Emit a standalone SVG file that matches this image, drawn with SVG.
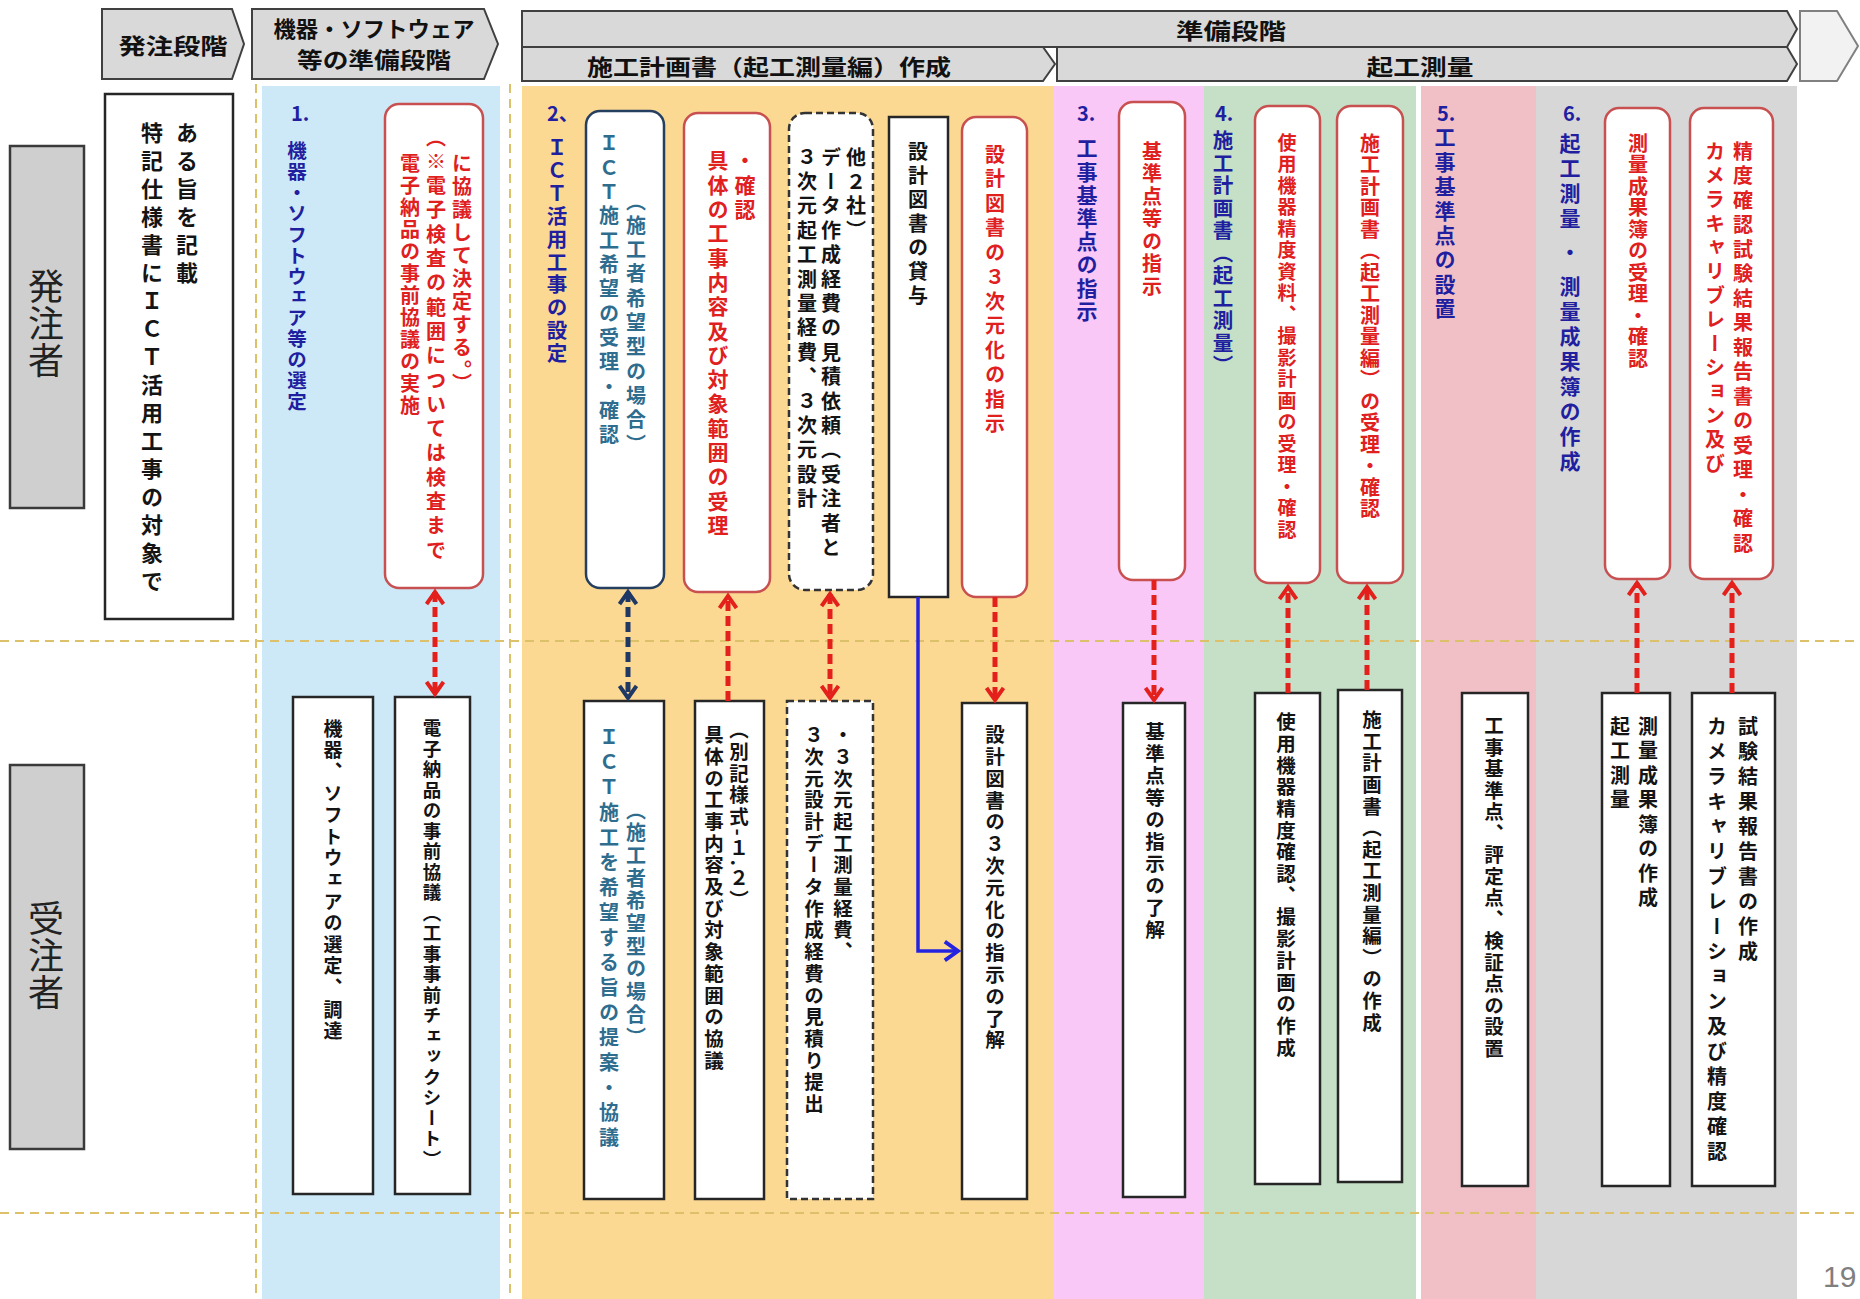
<svg xmlns="http://www.w3.org/2000/svg" width="1860" height="1299" viewBox="0 0 1860 1299">
<defs>
<style>
text { font-family: "Noto Sans CJK JP", "Noto Sans", sans-serif; }
.v { writing-mode: vertical-rl; }
.hdr { fill: #d9d9d9; stroke: #404040; stroke-width: 2; }
.hdt { font-size: 22px; font-weight: 700; fill: #111; dominant-baseline: central; text-anchor: middle; }
.lane { fill: #cfcfcf; stroke: #3a3a3a; stroke-width: 2.5; }
.lanet { font-size: 36px; fill: #222; letter-spacing: 1px; }
.num { font-size: 20px; font-weight: 700; fill: #1f1fa0; }
.hd { font-weight: 700; fill: #1f1fa0; }
.rt { font-weight: 700; fill: #e0201e; }
.bt { font-weight: 700; fill: #141414; }
.tt { font-weight: 700; fill: #2f6d8f; }
.rbox { fill: #fff; stroke: #c85050; stroke-width: 2.5; }
.bbox { fill: #fff; stroke: #262626; stroke-width: 2.5; }
.nbox { fill: #fff; stroke: #243f60; stroke-width: 2.5; }
.dbox { fill: #fff; stroke: #333; stroke-width: 2.5; stroke-dasharray: 7 4; }
.grid { stroke: #dcc06a; stroke-width: 2; stroke-dasharray: 9 6; fill: none; }
.ra { stroke: #e3201c; stroke-width: 5; stroke-dasharray: 10 5; fill: none; }
.na { stroke: #1f3864; stroke-width: 5; stroke-dasharray: 10 5; fill: none; }
.bl { stroke: #2424e0; stroke-width: 3.5; fill: none; }
</style>
<marker id="mr" viewBox="0 0 20 20" refX="15" refY="10" markerWidth="20" markerHeight="20" markerUnits="userSpaceOnUse" orient="auto-start-reverse"><path d="M3,1.5 L15,10 L3,18.5" fill="none" stroke="#e3201c" stroke-width="4"/></marker>
<marker id="mn" viewBox="0 0 20 20" refX="15" refY="10" markerWidth="20" markerHeight="20" markerUnits="userSpaceOnUse" orient="auto-start-reverse"><path d="M3,1.5 L15,10 L3,18.5" fill="none" stroke="#1f3864" stroke-width="4"/></marker>
<marker id="mb" viewBox="0 0 20 20" refX="15" refY="10" markerWidth="22" markerHeight="22" markerUnits="userSpaceOnUse" orient="auto"><path d="M3,1.5 L15,10 L3,18.5" fill="none" stroke="#2424e0" stroke-width="3.5"/></marker>
</defs>
<rect x="0" y="0" width="1860" height="1299" fill="#ffffff"/>

<g id="bands">
<rect x="262" y="86" width="238" height="1213" fill="#cde9f7"/>
<rect x="522" y="86" width="531" height="1213" fill="#fcd993"/>
<rect x="1053" y="86" width="151" height="1213" fill="#f9c8f7"/>
<rect x="1204" y="86" width="212" height="1213" fill="#c5e0c6"/>
<rect x="1421" y="86" width="115" height="1213" fill="#f1bfc6"/>
<rect x="1536" y="86" width="261" height="1213" fill="#d7d7d7"/>
</g>
<g id="gridlines">
<line class="grid" x1="256" y1="84" x2="256" y2="1299"/>
<line class="grid" x1="510" y1="84" x2="510" y2="1299"/>
<line class="grid" x1="0" y1="641" x2="1860" y2="641"/>
<line class="grid" x1="0" y1="1213" x2="1860" y2="1213"/>
</g>

<g id="header">
<g id="h-hatchu"><polygon class="hdr" points="102,9 232,9 244,44 232,79 102,79"/><text class="hdt" x="173" y="44" textLength="109" lengthAdjust="spacingAndGlyphs">発注段階</text></g>
<g id="h-kiki"><polygon class="hdr" points="252,9 484,9 498,44 484,79 252,79"/><text class="hdt" x="374" y="27" textLength="201" lengthAdjust="spacingAndGlyphs">機器・ソフトウェア</text><text class="hdt" x="374" y="58" textLength="154" lengthAdjust="spacingAndGlyphs">等の準備段階</text></g>
<g id="h-junbi"><polygon class="hdr" points="522,11 1787,11 1797,29 1787,47 522,47"/><text class="hdt" x="1231" y="29" textLength="110" lengthAdjust="spacingAndGlyphs">準備段階</text></g>
<g id="h-sekou"><polygon class="hdr" points="522,47 1043,47 1055,64 1043,81 522,81"/><text class="hdt" x="769" y="65" textLength="364" lengthAdjust="spacingAndGlyphs">施工計画書（起工測量編）作成</text></g>
<g id="h-kikou"><polygon class="hdr" points="1057,47 1787,47 1797,64 1787,81 1057,81"/><text class="hdt" x="1420" y="65" textLength="107" lengthAdjust="spacingAndGlyphs">起工測量</text></g>
<g id="h-next"><polygon points="1800,11 1837,11 1858,46 1837,81 1800,81" fill="#f2f2f2" stroke="#808080" stroke-width="2"/></g>
</g>

<g id="lane-hatchu"><rect class="lane" x="10" y="146" width="74" height="362"/><text class="v lanet" x="46" y="268">発注者</text></g>
<g id="lane-juchu"><rect class="lane" x="10" y="765" width="74" height="384"/><text class="v lanet" x="46" y="900">受注者</text></g>

<g id="headings">
<text class="num" x="291" y="121">1.</text>
<text class="v hd" x="297" y="141" style="font-size:19.5px;letter-spacing:1.4px">機器・ソフトウェア等の選定</text>
<text class="num" x="547" y="121">2、</text>
<text class="v hd" x="557" y="137" style="font-size:20.5px;letter-spacing:2.4px">ＩＣＴ活用工事の設定</text>
<text class="num" x="1077" y="121">3.</text>
<text class="v hd" x="1087" y="138" style="font-size:21px;letter-spacing:2.2px">工事基準点の指示</text>
<text class="num" x="1215" y="121">4.</text>
<text class="v hd" x="1223" y="130" style="font-size:20.5px;letter-spacing:2px">施工計画書（起工測量）</text>
<text class="num" x="1437" y="121">5.</text>
<text class="v hd" x="1445" y="127" style="font-size:21px;letter-spacing:3.4px">工事基準点の設置</text>
<text class="num" x="1563" y="121">6.</text>
<text class="v hd" x="1570" y="133" style="font-size:21px;letter-spacing:4px">起工測量 ・ 測量成果簿の作成</text>
</g>

<g id="t1"><rect class="bbox" x="105" y="94" width="128" height="525"/>
<text class="v bt" x="152" y="122" style="font-size:22px;letter-spacing:6px">特記仕様書にＩＣＴ活用工事の対象で</text>
<text class="v bt" x="187" y="122" style="font-size:22px;letter-spacing:6px">ある旨を記載</text></g>

<g id="t2"><rect class="rbox" x="385" y="104" width="98" height="484" rx="14"/>
<text class="v rt" x="410" y="153" style="font-size:20px;letter-spacing:2px">電子納品の事前協議の実施</text>
<text class="v rt" x="436" y="127" style="font-size:20px;letter-spacing:4.3px">（※電子検査の範囲については検査まで</text>
<text class="v rt" x="462" y="153" style="font-size:20px;letter-spacing:3px">に協議して決定する。）</text></g>

<g id="t3"><rect class="nbox" x="586" y="111" width="78" height="477" rx="14"/>
<text class="v tt" x="609" y="133" style="font-size:20px;letter-spacing:4.3px">ＩＣＴ施工希望の受理・確認</text>
<text class="v tt" x="636" y="191" style="font-size:20px;letter-spacing:4.3px">（施工者希望型の場合）</text></g>

<g id="t4"><rect class="rbox" x="684" y="113" width="86" height="479" rx="14"/>
<text class="v rt" x="718" y="150" style="font-size:21px;letter-spacing:3.3px">具体の工事内容及び対象範囲の受理</text>
<text class="v rt" x="745" y="150" style="font-size:21px;letter-spacing:3.3px">・確認</text></g>

<g id="t5"><rect class="dbox" x="789" y="113" width="84" height="477" rx="16"/>
<text class="v bt" x="807" y="147" style="font-size:20px;letter-spacing:4.4px">３次元起工測量経費、３次元設計</text>
<text class="v bt" x="831" y="147" style="font-size:20px;letter-spacing:4.4px">データ作成経費の見積依頼（受注者と</text>
<text class="v bt" x="856" y="147" style="font-size:20px;letter-spacing:4.4px">他２社）</text></g>

<g id="t6"><rect class="bbox" x="889" y="117" width="59" height="480"/>
<text class="v bt" x="918" y="141" style="font-size:20px;letter-spacing:4px">設計図書の貸与</text></g>

<g id="t7"><rect class="rbox" x="962" y="117" width="65" height="480" rx="14"/>
<text class="v rt" x="995" y="144" style="font-size:20px;letter-spacing:4.5px">設計図書の３次元化の指示</text></g>

<g id="t8"><rect class="rbox" x="1119" y="102" width="66" height="478" rx="14"/>
<text class="v rt" x="1152" y="141" style="font-size:20px;letter-spacing:2.5px">基準点等の指示</text></g>

<g id="t9"><rect class="rbox" x="1255" y="106" width="65" height="477" rx="14"/>
<text class="v rt" x="1287" y="133" style="font-size:19px;letter-spacing:2.5px">使用機器精度資料、撮影計画の受理・確認</text></g>

<g id="t10"><rect class="rbox" x="1337" y="106" width="66" height="477" rx="14"/>
<text class="v rt" x="1370" y="133" style="font-size:20px;letter-spacing:1.5px">施工計画書（起工測量編）の受理・確認</text></g>

<g id="t11"><rect class="rbox" x="1605" y="108" width="65" height="471" rx="14"/>
<text class="v rt" x="1638" y="133" style="font-size:20px;letter-spacing:1.5px">測量成果簿の受理・確認</text></g>

<g id="t12"><rect class="rbox" x="1690" y="108" width="83" height="471" rx="14"/>
<text class="v rt" x="1715" y="141" style="font-size:20px;letter-spacing:4px">カメラキャリブレーション及び</text>
<text class="v rt" x="1743" y="141" style="font-size:20px;letter-spacing:4.5px">精度確認試験結果報告書の受理・確認</text></g>

<g id="b1"><rect class="bbox" x="293" y="697" width="80" height="497"/>
<text class="v bt" x="333" y="719" style="font-size:19px;letter-spacing:2.6px">機器、ソフトウェアの選定、調達</text></g>

<g id="b2"><rect class="bbox" x="395" y="697" width="75" height="497"/>
<text class="v bt" x="432" y="719" style="font-size:18.5px;letter-spacing:2px">電子納品の事前協議（工事事前チェックシート）</text></g>

<g id="b3"><rect class="bbox" x="584" y="701" width="80" height="498"/>
<text class="v tt" x="609" y="727" style="font-size:20px;letter-spacing:5px">ＩＣＴ施工を希望する旨の提案・協議</text>
<text class="v tt" x="636" y="800" style="font-size:20px;letter-spacing:2.7px">（施工者希望型の場合）</text></g>

<g id="b4"><rect class="bbox" x="695" y="701" width="69" height="498"/>
<text class="v bt" x="714" y="725" style="font-size:19.5px;letter-spacing:2.2px">具体の工事内容及び対象範囲の協議</text>
<text class="v bt" x="739" y="720" style="font-size:19.5px;letter-spacing:2.2px">（別記様式-１.２）</text></g>

<g id="b5"><rect class="dbox" x="787" y="701" width="86" height="498"/>
<text class="v bt" x="814" y="725" style="font-size:19.5px;letter-spacing:2.2px">３次元設計データ作成経費の見積り提出</text>
<text class="v bt" x="843" y="725" style="font-size:19.5px;letter-spacing:2.2px">・３次元起工測量経費、</text></g>

<g id="b6"><rect class="bbox" x="962" y="703" width="65" height="496"/>
<text class="v bt" x="995" y="725" style="font-size:19.5px;letter-spacing:2.3px">設計図書の３次元化の指示の了解</text></g>

<g id="b7"><rect class="bbox" x="1123" y="703" width="62" height="494"/>
<text class="v bt" x="1155" y="722" style="font-size:19.5px;letter-spacing:2.5px">基準点等の指示の了解</text></g>

<g id="b8"><rect class="bbox" x="1255" y="693" width="65" height="491"/>
<text class="v bt" x="1286" y="712" style="font-size:19.5px;letter-spacing:2.2px">使用機器精度確認、撮影計画の作成</text></g>

<g id="b9"><rect class="bbox" x="1338" y="690" width="64" height="492"/>
<text class="v bt" x="1372" y="710" style="font-size:19.5px;letter-spacing:2.1px">施工計画書（起工測量編）の作成</text></g>

<g id="b10"><rect class="bbox" x="1462" y="693" width="66" height="493"/>
<text class="v bt" x="1494" y="716" style="font-size:19.5px;letter-spacing:2px">工事基準点、評定点、検証点の設置</text></g>

<g id="b11"><rect class="bbox" x="1602" y="693" width="68" height="493"/>
<text class="v bt" x="1620" y="716" style="font-size:20px;letter-spacing:4.5px">起工測量</text>
<text class="v bt" x="1648" y="716" style="font-size:20px;letter-spacing:4.5px">測量成果簿の作成</text></g>

<g id="b12"><rect class="bbox" x="1692" y="693" width="83" height="493"/>
<text class="v bt" x="1717" y="716" style="font-size:20px;letter-spacing:5px">カメラキャリブレーション及び精度確認</text>
<text class="v bt" x="1748" y="716" style="font-size:20px;letter-spacing:5px">試験結果報告書の作成</text></g>

<g id="connectors">
<line class="ra" x1="435" y1="592" x2="435" y2="694" marker-start="url(#mr)" marker-end="url(#mr)"/>
<line class="na" x1="628" y1="592" x2="628" y2="698" marker-start="url(#mn)" marker-end="url(#mn)"/>
<line class="ra" x1="728" y1="701" x2="728" y2="596" marker-end="url(#mr)"/>
<line class="ra" x1="830" y1="594" x2="830" y2="698" marker-start="url(#mr)" marker-end="url(#mr)"/>
<polyline class="bl" points="918,597 918,951 958,951" marker-end="url(#mb)"/>
<line class="ra" x1="995" y1="597" x2="995" y2="700" marker-end="url(#mr)"/>
<line class="ra" x1="1154" y1="580" x2="1154" y2="700" marker-end="url(#mr)"/>
<line class="ra" x1="1288" y1="693" x2="1288" y2="587" marker-end="url(#mr)"/>
<line class="ra" x1="1367" y1="690" x2="1367" y2="587" marker-end="url(#mr)"/>
<line class="ra" x1="1637" y1="693" x2="1637" y2="583" marker-end="url(#mr)"/>
<line class="ra" x1="1732" y1="693" x2="1732" y2="583" marker-end="url(#mr)"/>
</g>

<text x="1823" y="1287" style="font-family:'Liberation Sans',sans-serif;font-size:30px;fill:#7f7f7f">19</text>
</svg>
